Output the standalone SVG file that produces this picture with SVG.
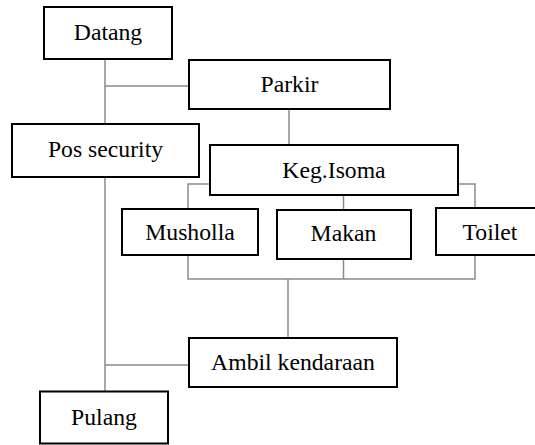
<svg xmlns="http://www.w3.org/2000/svg" width="535" height="445" viewBox="0 0 535 445">
  <style>
    .box { fill: #ffffff; stroke: #000000; stroke-width: 2; }
    .lbl { font-family: "Liberation Serif", "Times New Roman", serif; font-size: 23.7px; fill: #000000; text-anchor: middle; }
    .wire { fill: none; stroke: #8a8a8a; stroke-width: 1.5; }
  </style>
  <rect width="535" height="445" fill="#ffffff"/>

  <!-- connectors -->
  <g id="connectors">
    <!-- Datang -> Pos security, branch to Parkir -->
    <path class="wire" d="M105 59 V124"/>
    <path class="wire" d="M105 86 H189"/>
    <!-- Parkir -> Keg.Isoma -->
    <path class="wire" d="M289 109 V145"/>
    <!-- Keg.Isoma -> activities -->
    <path class="wire" d="M210 184 H188 V209"/>
    <path class="wire" d="M343.5 195 V210"/>
    <path class="wire" d="M458 184 H475 V209"/>
    <!-- activities merge -> Ambil kendaraan -->
    <path class="wire" d="M188 255 V279 H475 V255"/>
    <path class="wire" d="M343.5 259 V279"/>
    <path class="wire" d="M288 279 V338"/>
    <!-- Pos security -> Pulang, branch from Ambil kendaraan -->
    <path class="wire" d="M105 177 V391"/>
    <path class="wire" d="M189 365 H105"/>
  </g>

  <g id="datang">
    <rect class="box" x="44" y="7" width="128" height="52"/>
    <text class="lbl" x="108" y="40">Datang</text>
  </g>

  <g id="parkir">
    <rect class="box" x="189" y="60" width="201" height="49"/>
    <text class="lbl" x="289.5" y="92">Parkir</text>
  </g>

  <g id="pos-security">
    <rect class="box" x="12" y="124" width="187" height="53"/>
    <text class="lbl" x="105.5" y="157">Pos security</text>
  </g>

  <g id="keg-isoma">
    <rect class="box" x="210" y="145" width="248" height="50"/>
    <text class="lbl" x="334" y="178">Keg.Isoma</text>
  </g>

  <g id="musholla">
    <rect class="box" x="122" y="209" width="136" height="46"/>
    <text class="lbl" x="190" y="240">Musholla</text>
  </g>

  <g id="makan">
    <rect class="box" x="277" y="210" width="134" height="49"/>
    <text class="lbl" x="343.5" y="241">Makan</text>
  </g>

  <g id="toilet">
    <rect class="box" x="436" y="208" width="108" height="47"/>
    <text class="lbl" x="490" y="240">Toilet</text>
  </g>

  <g id="ambil-kendaraan">
    <rect class="box" x="189" y="338" width="208" height="49"/>
    <text class="lbl" x="293" y="369.5">Ambil kendaraan</text>
  </g>

  <g id="pulang">
    <rect class="box" x="40" y="391.5" width="128" height="52"/>
    <text class="lbl" x="104" y="425">Pulang</text>
  </g>
</svg>
